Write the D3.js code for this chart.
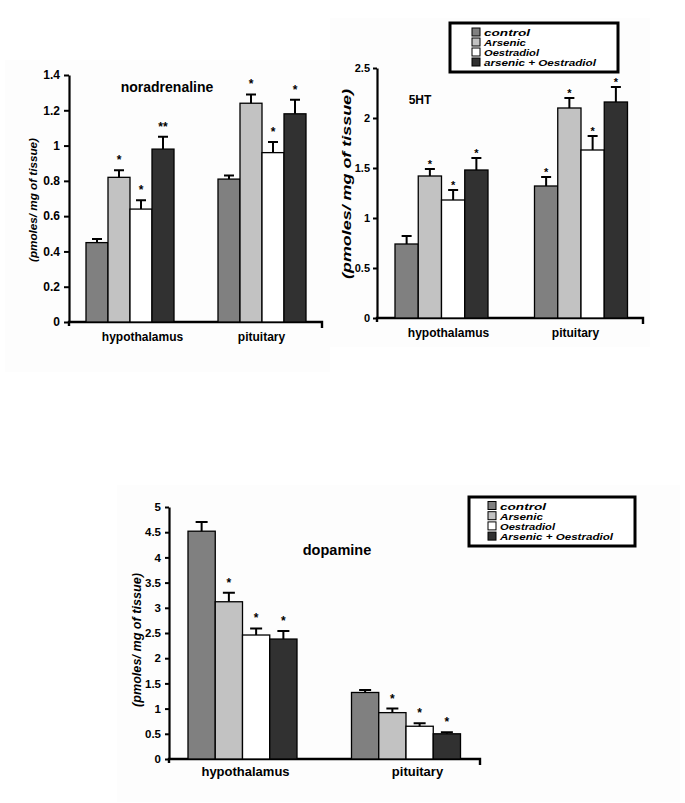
<!DOCTYPE html>
<html><head><meta charset="utf-8">
<script src="https://cdn.jsdelivr.net/npm/d3@7"></script>
<style>
body{margin:0;background:#fff}
svg{display:block}
text{font-family:"Liberation Sans",Arial,sans-serif;font-weight:bold;fill:#000}
</style></head>
<body><svg id="c" width="685" height="803"></svg>
<script>
// ---------- DATA ----------
const groups = ["hypothalamus", "pituitary"];
const seriesTop = ["control", "Arsenic", "Oestradiol", "arsenic + Oestradiol"];
const seriesBottom = ["control", "Arsenic", "Oestradiol", "Arsenic + Oestradiol"];
const seriesColors = ["#808080", "#c2c2c2", "#ffffff", "#313131"];

const noradrenalineMeans = [[0.45, 0.82, 0.64, 0.98], [0.81, 1.24, 0.96, 1.18]];
const noradrenalineErr   = [[0.02, 0.04, 0.05, 0.07], [0.02, 0.05, 0.06, 0.08]];
const noradrenalineSig   = [["", "*", "*", "**"], ["", "*", "*", "*"]];
const noradrenalineTicks = [0, 0.2, 0.4, 0.6, 0.8, 1, 1.2, 1.4];

const ht5Means = [[0.74, 1.42, 1.18, 1.48], [1.32, 2.10, 1.68, 2.16]];
const ht5Err   = [[0.08, 0.07, 0.10, 0.12], [0.09, 0.10, 0.14, 0.15]];
const ht5Sig   = [["", "*", "*", "*"], ["*", "*", "*", "*"]];
const ht5Ticks = [0, 0.5, 1, 1.5, 2, 2.5];

const dopamineMeans = [[4.52, 3.12, 2.46, 2.38], [1.32, 0.92, 0.65, 0.50]];
const dopamineErr   = [[0.18, 0.18, 0.13, 0.16], [0.05, 0.08, 0.06, 0.03]];
const dopamineSig   = [["", "*", "*", "*"], ["", "*", "*", "*"]];
const dopamineTicks = [0, 0.5, 1, 1.5, 2, 2.5, 3, 3.5, 4, 4.5, 5];

const yLabelText = "(pmoles/ mg of tissue)";

// ---------- DRAW ----------
const svg = d3.select("#c");

// very faint panel backgrounds
[[5, 60, 325, 312], [330, 18, 320, 329], [117, 485, 563, 317]].forEach(r =>
  svg.append("rect").attr("x", r[0]).attr("y", r[1]).attr("width", r[2]).attr("height", r[3]).attr("fill", "#fdfdfd"));

function drawChart(o) {
  const g = svg.append("g");
  const y = d3.scaleLinear().domain([0, o.max]).range([o.y0, o.yTop]);
  const x0 = d3.scalePoint().domain(groups).range(o.centers);
  const x1 = d3.scaleBand().domain(o.series).range([-o.groupWidth / 2, o.groupWidth / 2]);

  // y axis
  const ya = g.append("g").attr("transform", `translate(${o.left},0)`)
    .call(d3.axisLeft(y).tickValues(o.ticks).tickFormat(d => String(d)).tickSize(o.tickSize).tickSizeOuter(0).tickPadding(o.tickPad));
  ya.attr("font-family", null);
  ya.select(".domain").attr("stroke", "#000").attr("stroke-width", 2.2);
  ya.selectAll(".tick line").attr("stroke", "#000").attr("stroke-width", 2);
  ya.selectAll(".tick text").style("font-size", o.tickFont + "px").attr("fill", "#000");

  // x axis
  const xa = g.append("g").attr("transform", `translate(0,${o.y0})`)
    .call(d3.axisBottom(x0).tickSize(0).tickPadding(o.labelPad));
  xa.select(".domain").remove();
  xa.attr("font-family", null);
  xa.selectAll(".tick text").style("font-size", o.labelFont + "px").attr("fill", "#000")
    .attr("dx", (d, i) => o.labelShift[i]);
  g.append("path")
    .attr("d", `M${o.left},${o.y0 + 4}V${o.y0}H${o.right}V${o.y0 + 6}`)
    .attr("fill", "none").attr("stroke", "#000").attr("stroke-width", 2.4);

  // bars, error bars, significance marks
  groups.forEach((grp, gi) => {
    o.series.forEach((s, si) => {
      const v = o.means[gi][si], e = o.err[gi][si];
      const bx = x0(grp) + x1(s), bw = x1.bandwidth(), cx = bx + bw / 2;
      g.append("rect").attr("x", bx).attr("y", y(v)).attr("width", bw).attr("height", y(0) - y(v))
        .attr("fill", seriesColors[si]).attr("stroke", "#000").attr("stroke-width", 1.3);
      g.append("path").attr("d", `M${cx},${y(v)}V${y(v + e)}M${cx - o.cap},${y(v + e)}H${cx + o.cap}`)
        .attr("stroke", "#000").attr("stroke-width", 2).attr("fill", "none");
      if (o.sig[gi][si]) {
        g.append("text").attr("x", cx).attr("y", y(v + e) - o.starGap).attr("text-anchor", "middle")
          .style("font-size", o.starFont + "px").text(o.sig[gi][si]);
      }
    });
  });

  // title
  g.append("text").attr("x", o.titleX).attr("y", o.titleY).attr("text-anchor", "middle")
    .style("font-size", o.titleFont + "px").text(o.title);

  // y label
  g.append("text").attr("transform", `translate(${o.ylabX},${o.ylabY}) rotate(-90)`)
    .attr("text-anchor", "middle").style("font-size", o.ylabFont + "px").style("font-style", "italic")
    .attr("textLength", o.ylabLen).attr("lengthAdjust", "spacingAndGlyphs")
    .text(yLabelText);
}

function drawLegend(o) {
  const g = svg.append("g");
  g.append("rect").attr("x", o.x).attr("y", o.y).attr("width", o.w).attr("height", o.h)
    .attr("fill", "#fff").attr("stroke", "#000").attr("stroke-width", 3);
  o.series.forEach((s, i) => {
    const by = o.firstBase + i * o.step;
    g.append("rect").attr("x", o.sqX).attr("y", by - o.sq).attr("width", o.sq).attr("height", o.sq)
      .attr("fill", seriesColors[i]).attr("stroke", "#000").attr("stroke-width", 1);
    g.append("text").attr("x", o.textX).attr("y", by).style("font-size", o.font + "px")
      .style("font-style", "italic").attr("textLength", o.lens[i]).attr("lengthAdjust", "spacingAndGlyphs")
      .text(s);
  });
}

drawChart({
  series: seriesTop, means: noradrenalineMeans, err: noradrenalineErr, sig: noradrenalineSig,
  ticks: noradrenalineTicks, max: 1.4,
  left: 69, right: 322, y0: 322, yTop: 75, centers: [130, 262], groupWidth: 88,
  tickSize: 5, tickPad: 4, tickFont: 12, labelFont: 12, labelPad: 10, labelShift: [12, -1],
  cap: 5, starGap: 6, starFont: 12,
  title: "noradrenaline", titleX: 167, titleY: 92, titleFont: 14,
  ylabX: 37, ylabY: 200, ylabFont: 11.5, ylabLen: 124
});

drawChart({
  series: seriesTop, means: ht5Means, err: ht5Err, sig: ht5Sig,
  ticks: ht5Ticks, max: 2.5,
  left: 377, right: 643, y0: 318, yTop: 68, centers: [441.5, 581], groupWidth: 93,
  tickSize: 4, tickPad: 3, tickFont: 11, labelFont: 12, labelPad: 10, labelShift: [6.5, -6],
  cap: 5, starGap: 1, starFont: 11,
  title: "5HT", titleX: 420, titleY: 104, titleFont: 12,
  ylabX: 351, ylabY: 184, ylabFont: 13, ylabLen: 190
});

drawChart({
  series: seriesBottom, means: dopamineMeans, err: dopamineErr, sig: dopamineSig,
  ticks: dopamineTicks, max: 5,
  left: 169, right: 480, y0: 759, yTop: 507, centers: [242.5, 406], groupWidth: 109,
  tickSize: 4, tickPad: 4, tickFont: 11.5, labelFont: 13, labelPad: 8, labelShift: [2.5, 11],
  cap: 6, starGap: 6, starFont: 12,
  title: "dopamine", titleX: 337, titleY: 555, titleFont: 14.5,
  ylabX: 141, ylabY: 640, ylabFont: 12.5, ylabLen: 134
});

drawLegend({ series: seriesTop, x: 450, y: 23, w: 168, h: 49, sqX: 472, sq: 8, textX: 484,
  firstBase: 36, step: 10, font: 9.5, lens: [46, 42, 55, 112] });
drawLegend({ series: seriesBottom, x: 469, y: 497, w: 166, h: 49, sqX: 488, sq: 8, textX: 500,
  firstBase: 509.5, step: 10.2, font: 9.5, lens: [46, 43, 55, 113] });
</script></body></html>
